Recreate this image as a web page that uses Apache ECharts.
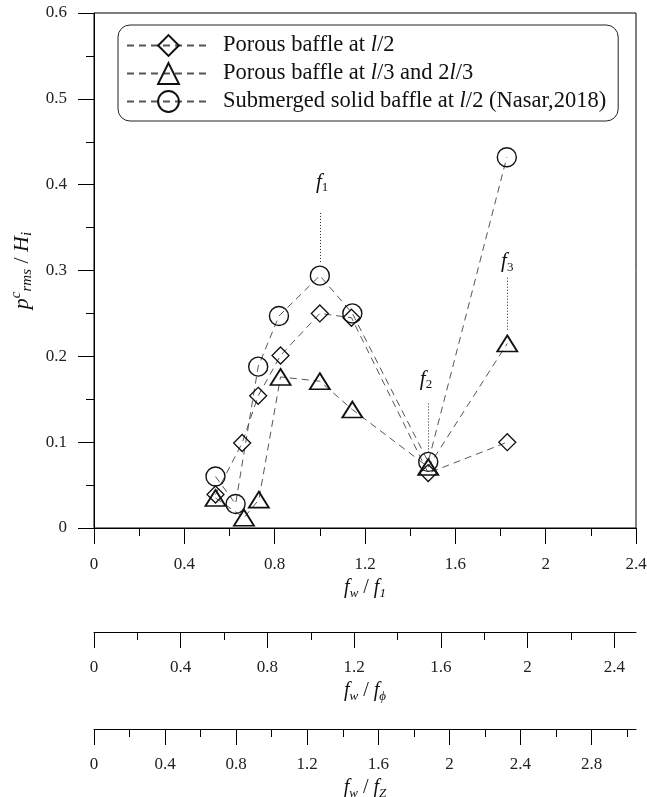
<!DOCTYPE html>
<html>
<head>
<meta charset="utf-8">
<script src="https://cdn.jsdelivr.net/npm/echarts@6/dist/echarts.min.js"></script>
<style>
  html, body { margin: 0; padding: 0; background: #fff; }
  #chart { width: 647px; height: 797px; }
</style>
</head>
<body>
<div id="chart"></div>
<script>
// Porous baffle at l/2
const porousMidX = [0.538, 0.656, 0.727, 0.826, 1.0, 1.14, 1.48, 1.83];
const porousMidY = [0.039, 0.099, 0.154, 0.201, 0.250, 0.245, 0.064, 0.100];
// Porous baffles at l/3 and 2l/3
const porousThirdX = [0.538, 0.664, 0.73, 0.826, 1.0, 1.144, 1.48, 1.83];
const porousThirdY = [0.035, 0.012, 0.033, 0.176, 0.171, 0.138, 0.071, 0.215];
// Submerged solid baffle at l/2 (Nasar, 2018)
const solidX = [0.538, 0.627, 0.727, 0.819, 1.0, 1.144, 1.48, 1.828];
const solidY = [0.060, 0.028, 0.188, 0.247, 0.294, 0.250, 0.077, 0.432];

const seriesNames = [
  'Porous baffle at l/2',
  'Porous baffle at l/3 and 2l/3',
  'Submerged solid baffle at l/2 (Nasar,2018)'
];

// Resonance markers f1, f2, f3: dotted guide extent and label anchor (data units)
const peakIndex = ['1', '2', '3'];
const peakX = [1.0, 1.48, 1.83];
const peakLow = [0.310, 0.088, 0.231];
const peakHigh = [0.369, 0.147, 0.292];
const peakLabelX = [1.01, 1.47, 1.83];
const peakLabelY = [0.403, 0.173, 0.310];

// Axis ticks
const yTicks = [0, 0.1, 0.2, 0.3, 0.4, 0.5, 0.6];
const xTicks = [0, 0.4, 0.8, 1.2, 1.6, 2, 2.4];
const phiTicks = [0, 0.4, 0.8, 1.2, 1.6, 2, 2.4];
const phiMinor = [0.2, 0.6, 1.0, 1.4, 1.8, 2.2];
const zTicks = [0, 0.4, 0.8, 1.2, 1.6, 2, 2.4, 2.8];
const zMinor = [0.2, 0.6, 1.0, 1.4, 1.8, 2.2, 2.6, 3.0];

const FONT = 'Liberation Serif';
const pair = (xs, ys) => xs.map((x, i) => [x, ys[i]]);

const nameRich = {
  i: { fontFamily: FONT, fontStyle: 'italic', fontSize: 20, lineHeight: 24, color: '#111' },
  n: { fontFamily: FONT, fontSize: 20, lineHeight: 24, color: '#111' },
  sub: { fontFamily: FONT, fontStyle: 'italic', fontSize: 13, lineHeight: 10, verticalAlign: 'bottom', color: '#111' },
  sup: { fontFamily: FONT, fontStyle: 'italic', fontSize: 13, lineHeight: 12, verticalAlign: 'top', color: '#111' }
};
const yNameRich = {
  i: { fontFamily: FONT, fontStyle: 'italic', fontSize: 22, lineHeight: 26, color: '#111' },
  n: { fontFamily: FONT, fontSize: 22, lineHeight: 26, color: '#111' },
  sub: { fontFamily: FONT, fontStyle: 'italic', fontSize: 15, lineHeight: 11, verticalAlign: 'bottom', color: '#111' },
  sup: { fontFamily: FONT, fontStyle: 'italic', fontSize: 15, lineHeight: 13, verticalAlign: 'top', color: '#111' }
};

const tickLabel = { fontFamily: FONT, fontSize: 17, color: '#222' };
const black = { color: '#000', width: 1 };

function bottomAxis(opts) {
  return Object.assign({
    type: 'value',
    gridIndex: 0,
    position: 'bottom',
    nameLocation: 'middle',
    nameGap: 46,
    nameTextStyle: { rich: nameRich },
    axisLine: { show: true, onZero: false, lineStyle: black },
    axisTick: { show: true, inside: false, length: 16, lineStyle: black },
    axisLabel: Object.assign({ margin: 28 }, tickLabel),
    splitLine: { show: false }
  }, opts);
}

function minorOverlay(offset, max, values) {
  return {
    type: 'value', gridIndex: 0, position: 'bottom', offset: offset,
    min: 0, max: max,
    axisLine: { show: false, onZero: false },
    axisLabel: { show: false },
    axisTick: { show: true, inside: false, length: 8, lineStyle: black, customValues: values },
    splitLine: { show: false }
  };
}

const markerStyle = { color: 'rgba(255,255,255,0)', borderColor: '#111', borderWidth: 1.3 };
const dashLine = { color: '#555', width: 1, type: [7, 5] };

function dataSeries(name, xs, ys, symbol, size, borderWidth) {
  return {
    name: name,
    type: 'line',
    data: pair(xs, ys),
    symbol: symbol,
    symbolSize: size,
    showAllSymbol: true,
    lineStyle: dashLine,
    itemStyle: Object.assign({}, markerStyle, { borderWidth: borderWidth }),
    emphasis: { disabled: true },
    z: 3
  };
}

const chart = echarts.init(document.getElementById('chart'), null, { renderer: 'canvas' });

chart.setOption({
  animation: false,
  backgroundColor: '#fff',
  grid: {
    left: 94, right: 11, top: 13, bottom: 269,
    show: true, borderColor: '#000', borderWidth: 1,
    containLabel: false, outerBoundsMode: 'none'
  },
  legend: {
    data: seriesNames,
    orient: 'vertical',
    left: 118, top: 25,
    itemWidth: 83, itemHeight: 26, itemGap: 5,
    padding: [9, 12, 8, 8],
    borderColor: '#222', borderWidth: 1, borderRadius: 12,
    selectedMode: false,
    textStyle: {
      fontFamily: FONT, fontSize: 22.5, color: '#111',
      rich: {
        sp: { width: 8 },
        i: { fontFamily: FONT, fontStyle: 'italic', fontSize: 22.5, color: '#111' }
      }
    },
    formatter: name => '{sp|}' + name.replace(/l\//g, '{i|l}/')
  },
  xAxis: [
    bottomAxis({
      min: 0, max: 2.4, interval: 0.4,
      name: '{i|f}{sub|w}{n| / }{i|f}{sub|1}',
      minorTick: { show: true, splitNumber: 2, length: 8, lineStyle: black },
      axisLabel: Object.assign({ margin: 28, customValues: xTicks }, tickLabel)
    }),
    bottomAxis({
      offset: 104, min: 0, max: 2.5,
      name: '{i|f}{sub|w}{n| / }{i|f}{sub|ϕ}',
      axisTick: { show: true, inside: false, length: 16, lineStyle: black, customValues: phiTicks },
      axisLabel: Object.assign({ margin: 27, customValues: phiTicks }, tickLabel)
    }),
    minorOverlay(104, 2.5, phiMinor),
    bottomAxis({
      offset: 201, min: 0, max: 3.05,
      nameGap: 44,
      name: '{i|f}{sub|w}{n| / }{i|f}{sub|Z}',
      axisTick: { show: true, inside: false, length: 16, lineStyle: black, customValues: zTicks },
      axisLabel: Object.assign({ margin: 27, customValues: zTicks }, tickLabel)
    }),
    minorOverlay(201, 3.05, zMinor)
  ],
  yAxis: {
    type: 'value',
    min: 0, max: 0.6, interval: 0.1,
    position: 'left',
    name: '{i|p}{sup|c}{sub|rms}{n| / }{i|H}{sub|i}',
    nameLocation: 'middle',
    nameGap: 46,
    nameTextStyle: { rich: yNameRich },
    axisLine: { show: true, onZero: false, lineStyle: black },
    axisTick: { show: true, inside: false, length: 16, lineStyle: black },
    minorTick: { show: true, splitNumber: 2, length: 8, lineStyle: black },
    axisLabel: Object.assign({ margin: 27, customValues: yTicks }, tickLabel),
    splitLine: { show: false }
  },
  series: [
    dataSeries(seriesNames[0], porousMidX, porousMidY, 'diamond', [17, 17], 1.3),
    dataSeries(seriesNames[1], porousThirdX, porousThirdY, 'triangle', [20, 16], 1.8),
    dataSeries(seriesNames[2], solidX, solidY, 'circle', 19, 1.4),
    {
      // dotted guides below the resonance labels
      type: 'line',
      data: [],
      silent: true,
      markLine: {
        silent: true,
        symbol: ['none', 'none'],
        animation: false,
        lineStyle: { color: '#222', width: 1, type: [1, 2] },
        label: { show: false },
        data: peakX.map((x, i) => [
          { coord: [x, peakLow[i]] },
          { coord: [x, peakHigh[i]] }
        ])
      }
    },
    {
      // f1, f2, f3 labels
      type: 'scatter',
      silent: true,
      symbolSize: 0,
      itemStyle: { opacity: 1 },
      data: pair(peakLabelX, peakLabelY).map((p, i) => ({ value: p, peak: peakIndex[i] })),
      label: {
        show: true,
        position: 'inside',
        color: '#111',
        opacity: 1,
        textBorderWidth: 0,
        formatter: p => '{f|f}{s|' + p.data.peak + '}',
        rich: {
          f: { fontFamily: FONT, fontStyle: 'italic', fontSize: 21, lineHeight: 24, color: '#111', textBorderWidth: 0 },
          s: { fontFamily: FONT, fontSize: 13, lineHeight: 10, verticalAlign: 'bottom', color: '#111', textBorderWidth: 0 }
        }
      }
    }
  ]
});
</script>
</body>
</html>
